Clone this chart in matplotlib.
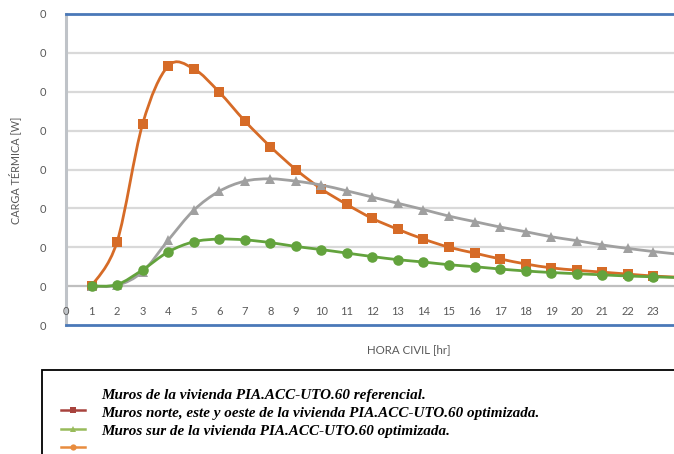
import numpy as np
import matplotlib
matplotlib.use("Agg")
import matplotlib.pyplot as plt
from matplotlib.path import Path
from matplotlib.patches import PathPatch, Rectangle
from matplotlib.lines import Line2D

# Hourly thermal load (in grid units of the value axis)
horas = list(range(1, 25))
sur_optimizada = [0.00, 1.14, 4.17, 5.66, 5.59, 4.99, 4.25, 3.59, 3.00, 2.50, 2.10, 1.74,
                  1.46, 1.21, 1.00, 0.85, 0.70, 0.57, 0.47, 0.41, 0.36, 0.31, 0.26, 0.23]
referencial = [0.00, 0.02, 0.37, 1.18, 1.95, 2.44, 2.70, 2.76, 2.70, 2.60, 2.45, 2.29,
               2.13, 1.97, 1.80, 1.66, 1.52, 1.40, 1.27, 1.17, 1.06, 0.97, 0.89, 0.82]
norte_optimizada = [0.00, 0.04, 0.42, 0.88, 1.14, 1.21, 1.19, 1.12, 1.02, 0.94, 0.85, 0.76,
                    0.68, 0.62, 0.55, 0.50, 0.44, 0.39, 0.35, 0.32, 0.29, 0.26, 0.24, 0.22]

x_ticks = list(range(0, 24))
y_ticks = list(range(-1, 8))
y_tick_labels = ["0"] * len(y_ticks)

legend_labels = [
    "Muros de la vivienda PIA.ACC-UTO.60 referencial.",
    "Muros norte, este y oeste de la vivienda PIA.ACC-UTO.60 optimizada.",
    "Muros sur de la vivienda PIA.ACC-UTO.60 optimizada.",
]

W, H = 674, 454
fig = plt.figure(figsize=(W / 100, H / 100), dpi=100)


def fx(px):
    return px / W


def fy(py):
    return 1 - py / H


ax = fig.add_axes([fx(66), fy(325), (W - 66) / W, (325 - 14) / H])
ax.set_xlim(0, 23.81)
ax.set_ylim(-1, 7)

# grid
for v in range(0, 7):
    ax.axhline(v, color="#BFBFBF" if v == 0 else "#D9D9D9", lw=1.6, zorder=1)

for side in ("top", "bottom"):
    ax.spines[side].set_color("#4A78B8")
    ax.spines[side].set_linewidth(2.0)
ax.spines["right"].set_visible(False)
ax.spines["left"].set_color("#BFC3C8")
ax.spines["left"].set_linewidth(2.2)

axis_font = "Lato"
tick_size = 8.0

ax.set_yticks(y_ticks)
ax.set_yticklabels(y_tick_labels)
ax.tick_params(axis="y", length=0, pad=14.5, labelsize=tick_size, labelcolor="#595959")
ax.set_xticks([])

for lab in ax.get_yticklabels():
    lab.set_fontfamily(axis_font)

for t in x_ticks:
    ax.text(t, -0.64, str(t), ha="center", va="center", fontsize=tick_size,
            color="#595959", family=axis_font)


def smooth_path(xs, ys):
    pts = np.column_stack([xs, ys]).astype(float)
    ext = np.vstack([pts[0], pts, pts[-1]])
    verts = [pts[0]]
    codes = [Path.MOVETO]
    for i in range(len(pts) - 1):
        p0, p1, p2, p3 = ext[i], ext[i + 1], ext[i + 2], ext[i + 3]
        verts += [p1 + (p2 - p0) / 6, p2 - (p3 - p1) / 6, p2]
        codes += [Path.CURVE4] * 3
    return Path(verts, codes)


series = [
    (sur_optimizada, "#D66B27", "s", 7.2, 3),
    (referencial, "#A0A0A0", "^", 7.6, 4),
    (norte_optimizada, "#63A33D", "o", 7.6, 5),
]
for ys, col, mk, ms, z in series:
    patch = PathPatch(smooth_path(horas, ys), fill=False, edgecolor=col, lw=2.0,
                      transform=ax.transData, zorder=z, capstyle="round", joinstyle="round")
    ax.add_patch(patch)
    ax.plot(horas, ys, linestyle="none", marker=mk, markersize=ms, color=col,
            markeredgewidth=0, zorder=z + 0.5)

# axis titles
fig.text(fx(409), fy(350), "HORA CIVIL [hr]", ha="center", va="center",
         fontsize=8.3, color="#595959", family=axis_font)
fig.text(fx(15), fy(170), "CARGA TÉRMICA [W]", ha="center", va="center",
         rotation=90, fontsize=7.8, color="#595959", family=axis_font)

# legend box
fig.patches.append(Rectangle((fx(42), fy(470)), (700 - 42) / W, (470 - 370) / H,
                             transform=fig.transFigure, fill=False,
                             edgecolor="black", lw=1.3))

for i, txt in enumerate(legend_labels):
    fig.text(fx(101), fy(395 + 18 * i), txt, ha="left", va="center", fontsize=10.9,
             family="Liberation Serif", style="italic", weight="bold", color="black")

legend_marks = [("#A8433D", "s", 410), ("#98BB5A", "^", 429), ("#E88C3E", "o", 447)]
for col, mk, py in legend_marks:
    fig.lines.append(Line2D([fx(61), fx(85)], [fy(py), fy(py)], transform=fig.transFigure,
                            color=col, lw=1.8, marker=None))
    fig.lines.append(Line2D([fx(73)], [fy(py)], transform=fig.transFigure, color=col,
                            marker=mk, markersize=4.5, markeredgewidth=0, linestyle="none"))

fig.savefig("out.png", dpi=100)
